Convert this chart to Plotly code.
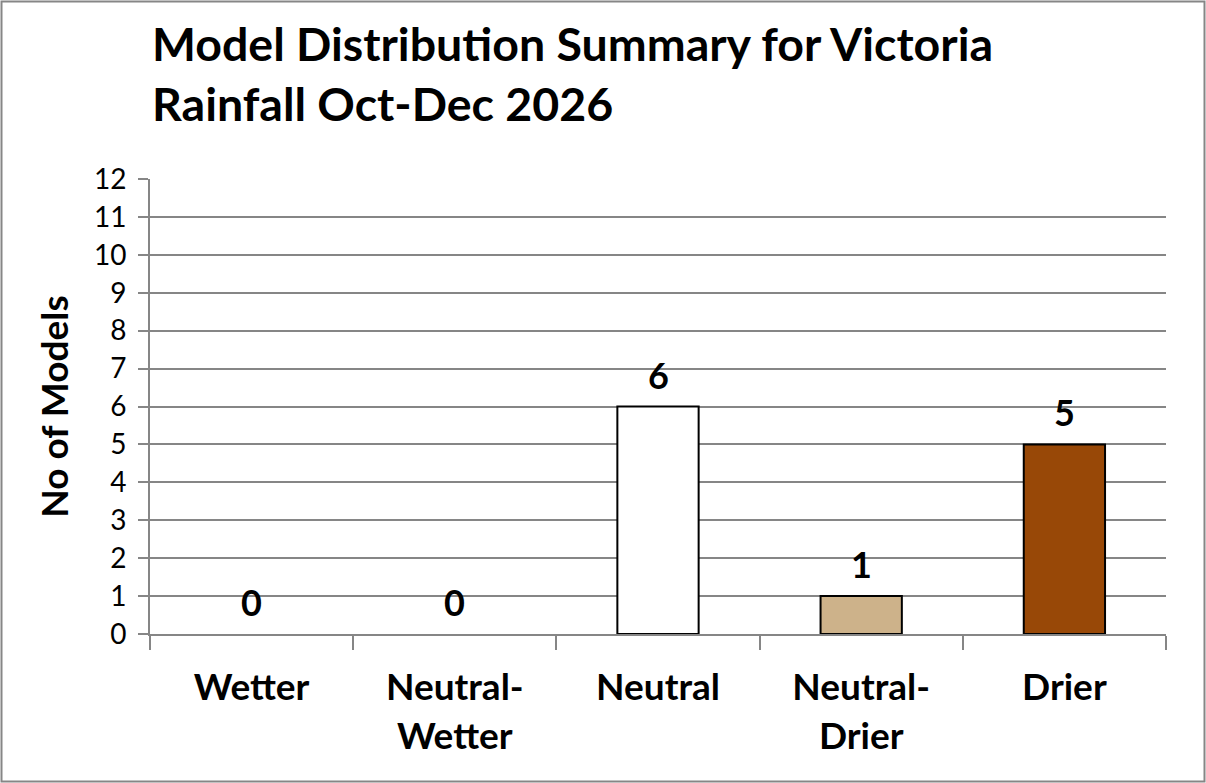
import plotly.graph_objects as go

# data
categories = ["Wetter", "Neutral-<br>Wetter", "Neutral", "Neutral-<br>Drier", "Drier"]
model_counts = [0, 0, 6, 1, 5]
bar_colors = ["#FFFFFF", "#FFFFFF", "#FFFFFF", "#CDB28A", "#984807"]
y_ticks = list(range(0, 13))

W, H = 1206, 783
ml, mr, mt, mb = 150, 40, 179, 149
pw, ph = W - ml - mr, H - mt - mb

fig = go.Figure()
fig.add_trace(
    go.Bar(
        x=categories,
        y=model_counts,
        width=0.4,
        marker=dict(
            color=bar_colors,
            line=dict(color="black", width=[2 if v > 0 else 0 for v in model_counts]),
        ),
        cliponaxis=False,
    )
)

# value labels above the bars
for cat, v in zip(categories, model_counts):
    fig.add_annotation(
        x=cat, y=v, text=str(v),
        showarrow=False, yanchor="bottom", yshift=8,
        font=dict(family="Lato", size=36, color="black", weight="bold"),
    )

# title, left aligned like the excel chart
fig.add_annotation(
    text="Model Distribution Summary for Victoria<br>Rainfall Oct-Dec 2026",
    xref="paper", yref="paper",
    x=(150 - ml) / pw, xanchor="left",
    y=1 + (mt - 13) / ph, yanchor="top",
    align="left", showarrow=False,
    font=dict(family="Lato", size=46.5, color="black", weight="bold"),
)

# border round the whole chart
fig.add_shape(
    type="rect",
    xref="paper", yref="paper",
    x0=(1.5 - ml) / pw, x1=(W - 1.5 - ml) / pw,
    y0=-(H - 1.5 - mt - ph) / ph, y1=1 + (mt - 1.5) / ph,
    line=dict(color="#868686", width=2),
)

fig.update_layout(
    width=W,
    height=H,
    margin=dict(l=ml, r=mr, t=mt, b=mb),
    paper_bgcolor="white",
    plot_bgcolor="white",
    showlegend=False,
    font=dict(family="Lato", color="black"),
)

fig.update_xaxes(
    showline=True,
    linecolor="#868686",
    linewidth=2,
    ticks="outside",
    tickson="boundaries",
    ticklen=14,
    tickwidth=2,
    tickcolor="#868686",
    showgrid=False,
    tickfont=dict(family="Lato", size=37, color="black", weight="bold"),
    ticklabelstandoff=20,
)

fig.update_yaxes(
    range=[0, 12],
    tickvals=y_ticks,
    showline=True,
    linecolor="#868686",
    linewidth=2,
    ticks="outside",
    ticklen=10,
    tickwidth=2,
    tickcolor="#868686",
    showgrid=True,
    gridcolor="#868686",
    gridwidth=2,
    zeroline=False,
    tickfont=dict(family="Lato", size=28, color="black"),
    ticklabelstandoff=6,
    title=dict(
        text="No of Models",
        font=dict(family="Lato", size=37, color="black", weight="bold"),
        standoff=14,
    ),
)

fig.write_html(
    "out.html",
    config={"displayModeBar": False},
    post_script="document.body.style.margin='0';",
)
